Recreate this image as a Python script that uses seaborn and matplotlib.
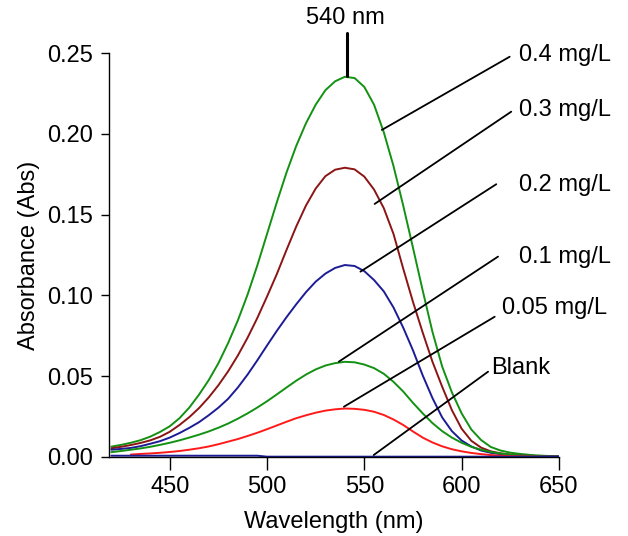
import numpy as np
import pandas as pd
import matplotlib
matplotlib.use("Agg")
import matplotlib.pyplot as plt
import seaborn as sns

# ------------------------
# Data (5 nm steps)
# ------------------------
wavelength = list(range(420, 655, 5))

abs_04 = [0.0064, 0.0075, 0.0088, 0.0104, 0.0126, 0.0155, 0.0190, 0.0240, 0.0305, 0.0385,
          0.0475, 0.0580, 0.0705, 0.0845, 0.1005, 0.1185, 0.1380, 0.1575, 0.1760, 0.1925,
          0.2065, 0.2180, 0.2270, 0.2325, 0.2353, 0.2345, 0.2290, 0.2180, 0.2010, 0.1800,
          0.1555, 0.1295, 0.1030, 0.0775, 0.0560, 0.0400, 0.0270, 0.0170, 0.0105, 0.0062,
          0.0040, 0.0027, 0.0019, 0.0013, 0.0009, 0.0006, 0.0004]

abs_03 = [0.0054, 0.0063, 0.0074, 0.0087, 0.0103, 0.0125, 0.0156, 0.0198, 0.0246, 0.0302,
          0.0368, 0.0444, 0.0530, 0.0628, 0.0738, 0.0860, 0.0993, 0.1131, 0.1281, 0.1426,
          0.1556, 0.1661, 0.1738, 0.1778, 0.1790, 0.1780, 0.1735, 0.1655, 0.1540, 0.1380,
          0.1165, 0.0960, 0.0770, 0.0590, 0.0435, 0.0290, 0.0175, 0.0100, 0.0058, 0.0035,
          0.0023, 0.0015, 0.0010, 0.0007, 0.0005, 0.0004, 0.0003]

abs_02 = [0.0045, 0.0050, 0.0056, 0.0067, 0.0082, 0.0098, 0.0120, 0.0148, 0.0180, 0.0215,
          0.0258, 0.0305, 0.0360, 0.0430, 0.0510, 0.0598, 0.0690, 0.0780, 0.0865, 0.0945,
          0.1020, 0.1085, 0.1135, 0.1170, 0.1188, 0.1182, 0.1150, 0.1095, 0.1025, 0.0925,
          0.0800, 0.0660, 0.0505, 0.0365, 0.0245, 0.0160, 0.0102, 0.0065, 0.0040, 0.0026,
          0.0017, 0.0012, 0.0008, 0.0006, 0.0004, 0.0003, 0.0002]

abs_01 = [0.0030, 0.0037, 0.0045, 0.0053, 0.0063, 0.0075, 0.0088, 0.0103, 0.0120, 0.0138,
          0.0158, 0.0181, 0.0207, 0.0237, 0.0270, 0.0306, 0.0345, 0.0387, 0.0430, 0.0472,
          0.0510, 0.0542, 0.0566, 0.0581, 0.0589, 0.0586, 0.0572, 0.0550, 0.0515, 0.0465,
          0.0405, 0.0335, 0.0270, 0.0210, 0.0160, 0.0120, 0.0088, 0.0063, 0.0045, 0.0031,
          0.0021, 0.0015, 0.0010, 0.0007, 0.0005, 0.0003, 0.0002]

abs_005 = [np.nan, np.nan, 0.0015, 0.0019, 0.0022, 0.0026, 0.0031, 0.0037, 0.0045, 0.0054,
           0.0065, 0.0079, 0.0095, 0.0111, 0.0130, 0.0150, 0.0172, 0.0195, 0.0218, 0.0240,
           0.0258, 0.0274, 0.0287, 0.0295, 0.0300, 0.0298, 0.0292, 0.0280, 0.0260, 0.0232,
           0.0198, 0.0158, 0.0120, 0.0090, 0.0066, 0.0048, 0.0035, 0.0025, 0.0018, 0.0012,
           0.0008, 0.0006, 0.0004, 0.0003, 0.0002, 0.0001, 0.0001]

abs_blank = [0.0008, 0.0008, 0.0008, 0.0008, 0.0008, 0.0008, 0.0008, 0.0008, 0.0008, 0.0008,
             0.0008, 0.0008, 0.0008, 0.0008, 0.0008, 0.0008, 0.0002, 0.0002, 0.0002, 0.0002,
             0.0002, 0.0002, 0.0002, 0.0002, 0.0002, 0.0002, 0.0002, 0.0002, 0.0002, 0.0002,
             0.0002, 0.0002, 0.0002, 0.0002, 0.0002, 0.0002, 0.0002, 0.0002, 0.0002, 0.0002,
             0.0002, 0.0002, 0.0002, 0.0002, 0.0002, 0.0002, 0.0002]

labels = ["0.4 mg/L", "0.3 mg/L", "0.2 mg/L", "0.1 mg/L", "0.05 mg/L", "Blank"]
series = [abs_04, abs_03, abs_02, abs_01, abs_005, abs_blank]
colors = ["#129112", "#8b1515", "#1c1c96", "#129112", "#ff1a1a", "#1c1c96"]

# leader lines: (curve point) -> (label end), and label anchor
leader_start = [(559.0, 0.2024), (555.3, 0.1566), (548.0, 0.1147),
                (536.9, 0.0590), (539.5, 0.0311), (554.8, 0.0012)]
leader_end = [(624.7, 0.2477), (625.5, 0.2137), (617.8, 0.1688),
              (618.7, 0.1240), (617.0, 0.0868), (613.6, 0.0528)]
label_pos = [(629.5, 0.2490), (629.5, 0.2150), (629.5, 0.1685),
             (629.5, 0.1240), (621.0, 0.0925), (615.0, 0.0553)]

peak_wl = 541
peak_text = "540 nm"

# ------------------------
# Build long table
# ------------------------
frames = []
for lab, vals in zip(labels, series):
    frames.append(pd.DataFrame({"wavelength": wavelength, "absorbance": vals, "sample": lab}))
df = pd.concat(frames, ignore_index=True).dropna()

# ------------------------
# Plot
# ------------------------
sns.set_style("ticks")
plt.rcParams['font.family'] = ['Liberation Sans', 'DejaVu Sans']
plt.rcParams['text.color'] = 'black'
plt.rcParams['axes.labelcolor'] = 'black'
plt.rcParams['xtick.color'] = 'black'
plt.rcParams['ytick.color'] = 'black'

fig = plt.figure(figsize=(6.28, 5.36), dpi=100)
ax = fig.add_axes([0.1736, 0.1474, 0.7164, 0.7537])

sns.lineplot(data=df, x="wavelength", y="absorbance", hue="sample",
             palette=dict(zip(labels, colors)), hue_order=labels,
             legend=False, linewidth=1.4, ax=ax, estimator=None, sort=True)

ax.set_xlim(418.8, 650)
ax.set_ylim(0, 0.25)
ax.set_xticks([450, 500, 550, 600, 650])
ax.set_yticks([0.00, 0.05, 0.10, 0.15, 0.20, 0.25])
ax.set_yticklabels([f"{v:.2f}" for v in [0.00, 0.05, 0.10, 0.15, 0.20, 0.25]])
ax.set_xlabel("Wavelength (nm)", fontsize=17, labelpad=9.5)
ax.set_ylabel("Absorbance (Abs)", fontsize=17, labelpad=5)
ax.tick_params(axis='both', labelsize=17, direction='out', width=1.0, color='black')
ax.tick_params(axis='x', length=9.5, pad=4)
ax.tick_params(axis='y', length=5.8, pad=6)
for side in ["left", "bottom"]:
    ax.spines[side].set_color("black")
    ax.spines[side].set_linewidth(1.0)
sns.despine(ax=ax)
ax.set_facecolor("white")

# peak marker
ax.plot([peak_wl, peak_wl], [0.2355, 0.2624], color="black", lw=2.2, clip_on=False)
ax.text(peak_wl - 0.5, 0.2717, peak_text, fontsize=17, ha="center", va="center")

# leader lines and labels
for lab, p0, p1, tp in zip(labels, leader_start, leader_end, label_pos):
    ax.plot([p0[0], p1[0]], [p0[1], p1[1]], color="black", lw=1.3, clip_on=False)
    ax.text(tp[0], tp[1], lab, fontsize=17, ha="left", va="center")

fig.savefig("out.png", dpi=100)
plt.close(fig)
